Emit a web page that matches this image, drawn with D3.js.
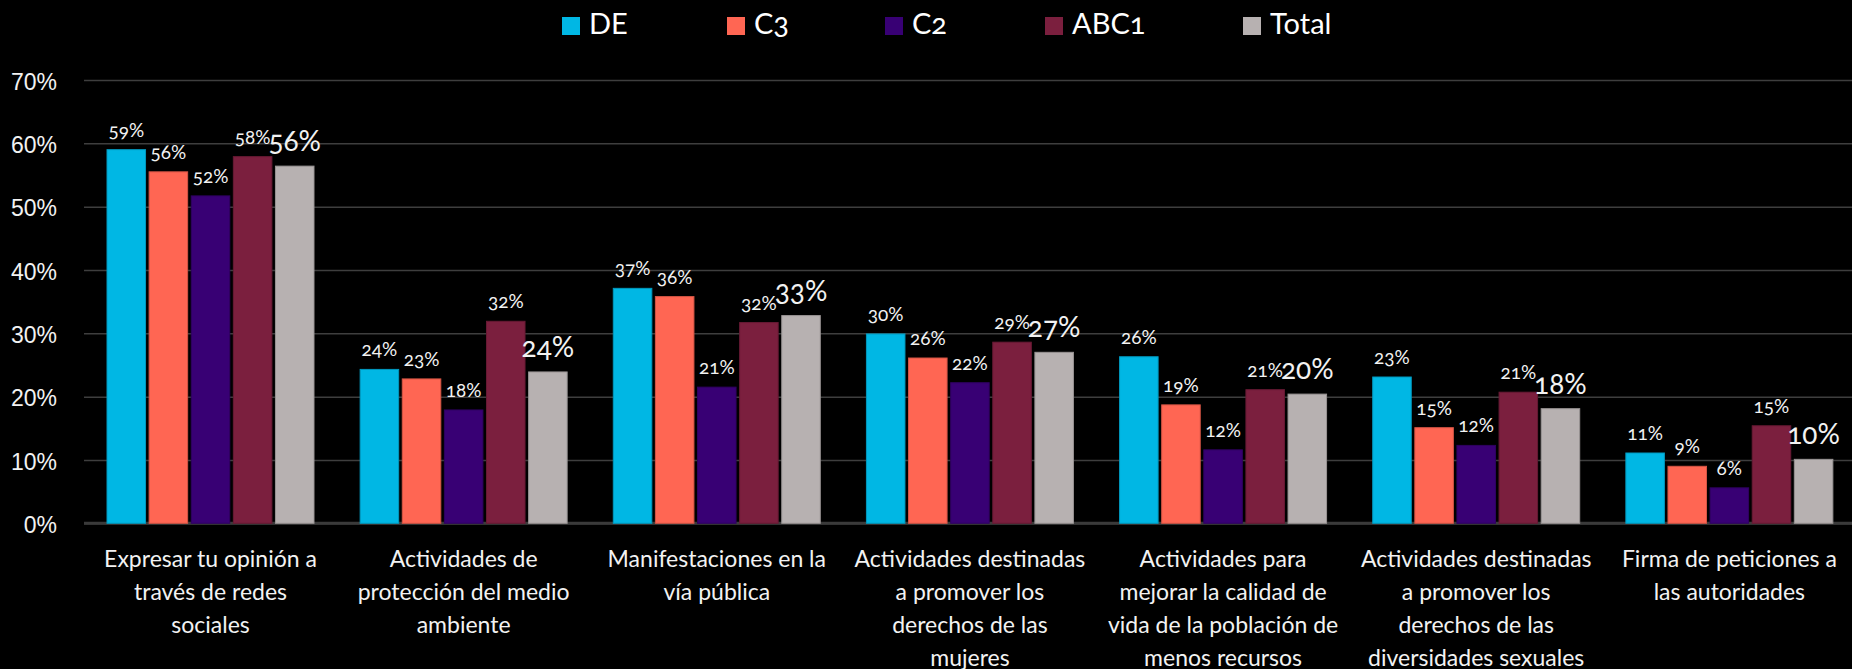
<!DOCTYPE html>
<html>
<head>
  <meta charset="utf-8">
  <style type="text/css">
  html, body {
    margin: 0;
    padding: 0;
    background: #000;
  }
  svg {
    display: block;
    font-family: Lato, "Open Sans", sans-serif;
    font-variant-numeric: oldstyle-nums;
  }
  .grid line {
    stroke: #3e3e3e;
    stroke-width: 1.5px;
  }
  .grid path {
    display: none;
  }
  .grid text {
    fill: #f2f2f2;
    font-size: 23px;
  }
  .baseline {
    stroke: #3a3a3a;
    stroke-width: 3px;
  }
  .cat-label {
    fill: #f2f2f2;
    font-size: 23px;
  }
  .val-label {
    fill: #f2f2f2;
    font-size: 19px;
  }
  .val-label.total {
    font-size: 28px;
  }
  .legend text {
    fill: #fff;
    font-size: 29px;
  }
  </style>
</head>
<body>
  <script src="https://d3js.org/d3.v7.min.js"></script>
  <script>
    // categories (line breaks as in the original)
    var categories = [
      ["Expresar tu opinión a", "través de redes", "sociales"],
      ["Actividades de", "protección del medio", "ambiente"],
      ["Manifestaciones en la", "vía pública"],
      ["Actividades destinadas", "a promover los", "derechos de las", "mujeres"],
      ["Actividades para", "mejorar la calidad de", "vida de la población de", "menos recursos"],
      ["Actividades destinadas", "a promover los", "derechos de las", "diversidades sexuales"],
      ["Firma de peticiones a", "las autoridades"]
    ];
    var series = ["DE", "C3", "C2", "ABC1", "Total"];
    var seriesLabels = ["DE", "C3", "C2", "ABC1", "Total"];
    var colors = ["#00b7e4", "#ff6653", "#380074", "#7b1f3e", "#b7b1b1"];

    // values in %, one array per series
    var valDE    = [59.0, 24.3, 37.1, 29.9, 26.3, 23.1, 11.1];
    var valC3    = [55.5, 22.8, 35.8, 26.1, 18.7, 15.1, 9.0];
    var valC2    = [51.7, 17.9, 21.5, 22.2, 11.6, 12.3, 5.6];
    var valABC1  = [57.9, 31.9, 31.7, 28.6, 21.1, 20.7, 15.4];
    var valTotal = [56.4, 23.9, 32.8, 27.0, 20.4, 18.1, 10.1];
    // labels printed on the chart
    var lblDE    = ["59%", "24%", "37%", "30%", "26%", "23%", "11%"];
    var lblC3    = ["56%", "23%", "36%", "26%", "19%", "15%", "9%"];
    var lblC2    = ["52%", "18%", "21%", "22%", "12%", "12%", "6%"];
    var lblABC1  = ["58%", "32%", "32%", "29%", "21%", "21%", "15%"];
    var lblTotal = ["56%", "24%", "33%", "27%", "20%", "18%", "10%"];

    var yTicks = [0, 10, 20, 30, 40, 50, 60, 70];

    var values = [valDE, valC3, valC2, valABC1, valTotal];
    var labels = [lblDE, lblC3, lblC2, lblABC1, lblTotal];

    var W = 1852, H = 669;
    var plotLeft = 84, plotRight = 1856, plotTop = 80, plotBottom = 523.3;

    var svg = d3.select("body").append("svg")
        .attr("width", W)
        .attr("height", H);

    var x0 = d3.scaleBand()
        .domain(d3.range(categories.length))
        .range([plotLeft, plotRight])
        .padding(0);
    var x1 = d3.scaleBand()
        .domain(series)
        .range([23, 230])
        .paddingInner(0.085)
        .paddingOuter(0);
    var y = d3.scaleLinear()
        .domain([0, 70])
        .range([plotBottom, plotTop]);
    var color = d3.scaleOrdinal().domain(series).range(colors);

    // gridlines + y labels
    var yAxis = d3.axisLeft(y)
        .tickValues(yTicks)
        .tickSize(-(W - plotLeft))
        .tickPadding(27)
        .tickFormat(function(d) { return d + "%"; });
    svg.append("g")
        .attr("class", "grid")
        .attr("transform", "translate(" + plotLeft + ",0)")
        .call(yAxis)
        .selectAll("text")
        .attr("dy", "0.4em");

    svg.append("line")
        .attr("class", "baseline")
        .attr("x1", plotLeft).attr("x2", W)
        .attr("y1", y(0)).attr("y2", y(0));

    // bars
    var rows = [];
    series.forEach(function(s, si) {
      values[si].forEach(function(v, ci) {
        rows.push({s: s, si: si, ci: ci, v: v, label: labels[si][ci]});
      });
    });

    svg.append("g").selectAll("rect")
        .data(rows)
      .enter().append("rect")
        .attr("x", function(d) { return x0(d.ci) + x1(d.s); })
        .attr("y", function(d) { return y(d.v); })
        .attr("width", x1.bandwidth())
        .attr("height", function(d) { return y(0) - y(d.v); })
        .attr("fill", function(d) { return color(d.s); })
        .attr("stroke", function(d) { return d3.color(color(d.s)).darker(0.5); })
        .attr("stroke-width", 1);

    svg.append("g").selectAll("text")
        .data(rows)
      .enter().append("text")
        .attr("class", function(d) { return d.s === "Total" ? "val-label total" : "val-label"; })
        .attr("x", function(d) { return x0(d.ci) + x1(d.s) + x1.bandwidth() / 2; })
        .attr("y", function(d) { return y(d.v) - (d.s === "Total" ? 15 : 13); })
        .attr("text-anchor", "middle")
        .text(function(d) { return d.label; });

    // category labels
    var cat = svg.append("g").selectAll("text")
        .data(categories)
      .enter().append("text")
        .attr("class", "cat-label")
        .attr("text-anchor", "middle")
        .attr("transform", function(d, i) {
          return "translate(" + (x0(i) + x1("C2") + x1.bandwidth() / 2) + ",567)";
        });
    cat.selectAll("tspan")
        .data(function(d) { return d; })
      .enter().append("tspan")
        .attr("x", 0)
        .attr("y", function(d, i) { return i * 33; })
        .text(function(d) { return d; });

    // legend
    var legendX = [562, 727, 885, 1045, 1243];
    var legend = svg.append("g").attr("class", "legend")
      .selectAll("g")
        .data(series)
      .enter().append("g")
        .attr("transform", function(d, i) { return "translate(" + legendX[i] + ",0)"; });
    legend.append("rect")
        .attr("y", 17)
        .attr("width", 18)
        .attr("height", 18)
        .attr("fill", function(d) { return color(d); });
    legend.append("text")
        .attr("x", 27)
        .attr("y", 34)
        .text(function(d, i) { return seriesLabels[i]; });
  </script>
</body>
</html>
